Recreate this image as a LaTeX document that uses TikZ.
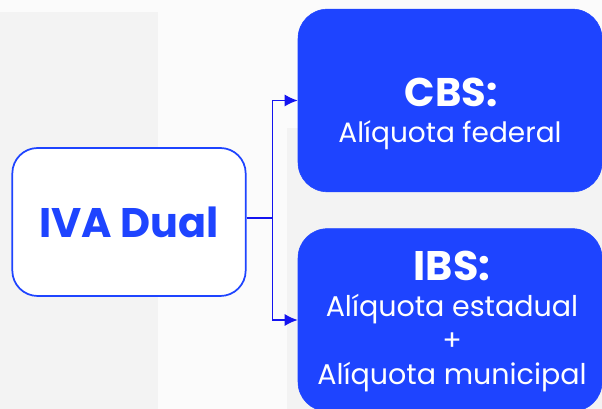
\documentclass[tikz,border=0pt]{standalone}
\usepackage{fontspec}
\setmainfont{Poppins}
\usetikzlibrary{arrows.meta}

\definecolor{ivablue}{RGB}{30,68,255}
\definecolor{linkblue}{RGB}{20,20,240}
\definecolor{panelgray}{RGB}{243,243,243}
\definecolor{pagegray}{RGB}{251,251,251}

\tikzset{
  bluebox/.style={rectangle, rounded corners=22pt, fill=ivablue, draw=ivablue, minimum width=228pt, minimum height=137pt, inner sep=0pt},
  whitebox/.style={rectangle, rounded corners=19pt, fill=white, draw=ivablue, line width=1.3pt, minimum width=175pt, minimum height=111pt, inner sep=0pt},
  titletext/.style={anchor=base, text=white, font=\bfseries},
  subtext/.style={anchor=base, text=white},
  link/.style={draw=linkblue, line width=1.1pt},
}

\begin{document}
\begin{tikzpicture}[>={Latex[length=9.75pt, width=9pt]}, x=0.75pt, y=0.75pt]

\useasboundingbox (0,0) rectangle (602,409);
\clip (0,0) rectangle (602,409);

% background
\fill[pagegray] (0,0) rectangle (602,409);
\fill[panelgray] (0,0) rectangle (158,397);
\fill[panelgray] (287,0) rectangle (602,281);

% boxes
\node[whitebox, text=ivablue, font=\fontsize{31}{36}\selectfont\bfseries] (iva) at (129, 187) {IVA Dual};
\node[bluebox] (cbs) at (450, 308.5) {};
\node[bluebox] (ibs) at (450, 89) {};

% texts
\node[titletext, font=\fontsize{30}{34}\selectfont\bfseries] (cbs title) at (451, 302) {CBS:};
\node[subtext, font=\fontsize{21}{25}\selectfont] (cbs rate) at (450, 266) {Alíquota federal};

\node[titletext, font=\fontsize{31}{36}\selectfont\bfseries] (ibs title) at (452, 128) {IBS:};
\node[subtext, font=\fontsize{21.4}{25}\selectfont] (ibs state) at (452, 92.3) {Alíquota estadual};
\node[subtext, font=\fontsize{21.4}{25}\selectfont] (ibs plus) at (452, 58.1) {+};
\node[subtext, font=\fontsize{21.4}{25}\selectfont] (ibs city) at (452, 24) {Alíquota municipal};

% connectors
\draw[link, ->] ([yshift=3pt]iva.east) -- ++(26,0) |- (cbs.west);
\draw[link, ->] ([yshift=3pt]iva.east) -- ++(26,0) |- (ibs.west);

\end{tikzpicture}
\end{document}
